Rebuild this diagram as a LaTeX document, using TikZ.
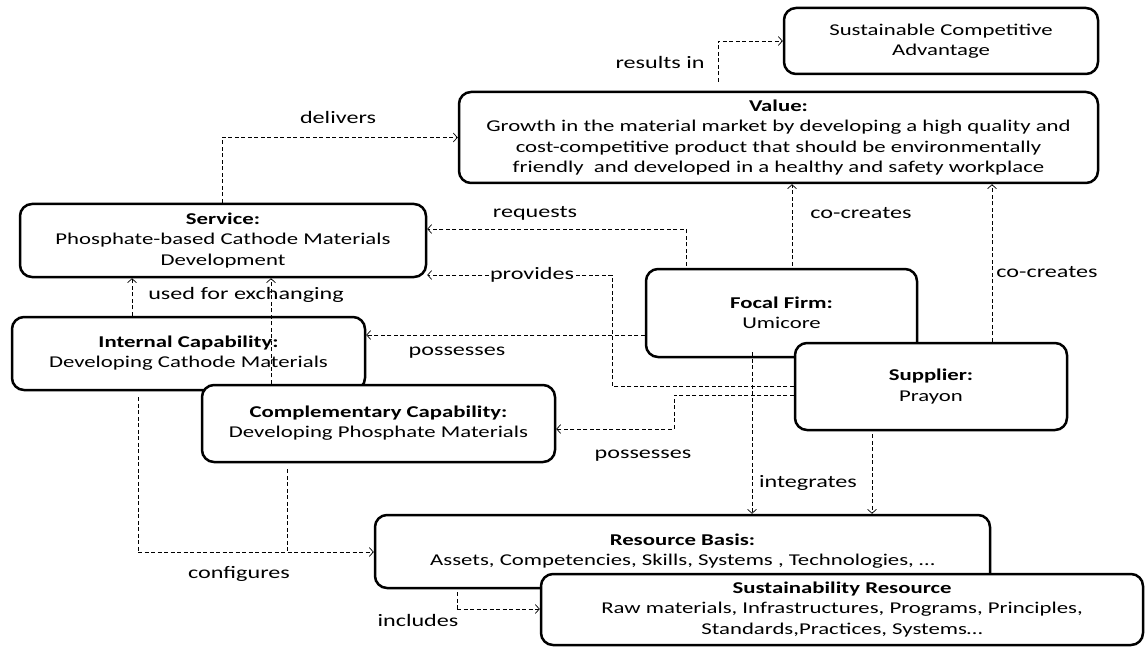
\documentclass[tikz,border=0pt]{standalone}
\usepackage{fontspec}
\setmainfont{Carlito}[FakeStretch=1.38]
\usetikzlibrary{arrows.meta}
\begin{document}
\begin{tikzpicture}[x=1pt,y=-1pt,
  box/.style={draw, line width=2.5pt, rounded corners=12pt, fill=white,
    align=center, inner sep=0pt, font=\fontsize{16.5}{20.2}\selectfont},
  link/.style={draw, line width=0.7pt, dash pattern=on 4pt off 2.5pt},
  conn/.style={link, -{Straight Barb[length=4pt,width=9pt]}},
  lbl/.style={font=\fontsize{17.5}{20}\selectfont, inner sep=1pt}]
\useasboundingbox (0,0) rectangle (1148,647);

% ---- boxes ----
\node[box, minimum width=314, minimum height=66] (sca) at (941,41)
  {Sustainable Competitive\\Advantage};
\node[box, minimum width=639, minimum height=91] (val) at (778.5,137.5)
  {\textbf{Value:}\\Growth in the material market by developing a high quality and\\
   cost-competitive product that should be environmentally\\
   friendly \ and developed in a healthy and safety workplace};
\node[box, minimum width=406, minimum height=73] (srv) at (223,240.5)
  {\textbf{Service:}\\Phosphate-based Cathode Materials\\Development};
\node[box, minimum width=353, minimum height=73] (intc) at (188.5,353.5)
  {\textbf{Internal Capability:}\\Developing Cathode Materials};
\node[box, minimum width=353, minimum height=77] (comp) at (378.5,423.5)
  {\textbf{Complementary Capability:}\\Developing Phosphate Materials};
\node[box, minimum width=271, minimum height=88] (focal) at (781.5,313)
  {\textbf{Focal Firm:}\\Umicore};
\node[box, minimum width=272, minimum height=87] (sup) at (931,386.5)
  {\textbf{Supplier:}\\Prayon};
\node[box, minimum width=615, minimum height=73] (res) at (682.5,551.5)
  {\textbf{Resource Basis:}\\Assets, Competencies, Skills, Systems , Technologies, \dots};
\node[box, minimum width=602, minimum height=71] (sr) at (842,609.5)
  {\textbf{Sustainability Resource}\\Raw materials, Infrastructures, Programs, Principles,\\
   Standards,Practices, Systems\dots};

% ---- routing points ----
\coordinate (kres) at (718,42);
\coordinate (kdel) at (222,0);
\coordinate (kreq) at (686,229);
\coordinate (kpro) at (612,275);
\coordinate (kpos1) at (0,335);
\coordinate (kpos2) at (674,395);
\coordinate (kpos2b) at (674,429);
\coordinate (kco1) at (792,0);
\coordinate (kco2) at (992,0);
\coordinate (kuse1) at (132,0);
\coordinate (kuse2) at (271,0);
\coordinate (kcfg1) at (138,552);
\coordinate (kcfg2) at (287,552);
\coordinate (kint1) at (752,0);
\coordinate (kint2) at (872,0);
\coordinate (kinc) at (457,609);

% ---- connectors ----
\draw[conn, shorten <=9pt] (val.north -| kres) |- (sca.west);
\draw[conn] (srv.north -| kdel) |- (val.west);
\draw[conn, shorten <=2pt] (focal.north -| kreq) |- (srv.east |- kreq);
\draw[conn] (sup.west |- 0,386) -| (kpro) -- (srv.east |- kpro);
\draw[conn] (focal.west |- kpos1) -- (intc.east |- kpos1);
\draw[conn] (sup.west |- kpos2) -- (kpos2) -- (kpos2b) -- (comp.east |- kpos2b);
\draw[conn, shorten <=2pt] (focal.north -| kco1) -- (val.south -| kco1);
\draw[conn] (sup.north -| kco2) -- (val.south -| kco2);
\draw[conn] (intc.north -| kuse1) -- (srv.south -| kuse1);
\draw[conn] (comp.north -| kuse2) -- (srv.south -| kuse2);
\draw[link, shorten <=6pt] (intc.south -| kcfg1) -- (kcfg1);
\draw[conn] (kcfg1) -- (res.west |- kcfg1);
\draw[link, shorten <=6pt] (comp.south -| kcfg2) -- (kcfg2);
\draw[conn, shorten <=-6pt] (focal.south -| kint1) -- (res.north -| kint1);
\draw[conn, shorten <=3pt] (sup.south -| kint2) -- (res.north -| kint2);
\draw[link, shorten <=3pt] (res.south -| kinc) -- (kinc);
\draw[conn] (kinc) -- (sr.west |- kinc);

% ---- labels ----
\node[lbl] (lres) at (660,62) {results in};
\node[lbl] (ldel) at (338,117) {delivers};
\node[lbl] (lreq) at (535,213) {requests};
\node[lbl, fill=white, inner sep=0.5pt] (lpro) at (532,275) {provides};
\node[lbl] (lco1) at (861,213) {co-creates};
\node[lbl] (lco2) at (1047,272) {co-creates};
\node[lbl] (luse) at (246,295) {used for exchanging};
\node[lbl] (lpos1) at (457,353) {possesses};
\node[lbl] (lpos2) at (643,456) {possesses};
\node[lbl] (lint) at (808,483) {integrates};
\node[lbl] (lcfg) at (239,574) {configures};
\node[lbl] (linc) at (418,620) {includes};
\end{tikzpicture}
\end{document}
